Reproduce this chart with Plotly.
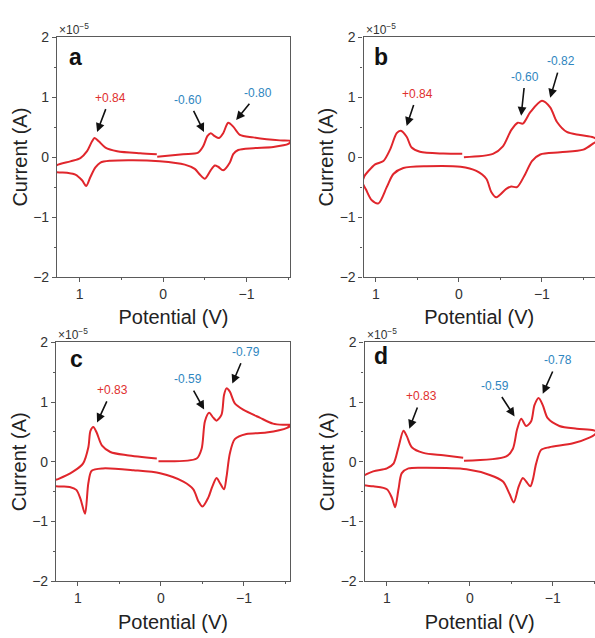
import plotly.graph_objects as go

# ---------------- data (current in units of 1e-5 A, potential in V) ----------------
panel_letters = ["a", "b", "c", "d"]

pot_a = [0.07, -0.24, -0.42, -0.48, -0.53, -0.57, -0.62, -0.67, -0.72, -0.78, -0.84, -0.92, -1.08, -1.24, -1.40, -1.53,
         -1.50, -1.32, -1.08, -0.90, -0.84, -0.80, -0.72, -0.66, -0.62, -0.57, -0.50, -0.44, -0.38, -0.26, 0.04, 0.36,
         0.63, 0.75, 0.81, 0.87, 0.92, 0.97, 1.05, 1.15, 1.29,
         1.29, 1.11, 0.99, 0.91, 0.85, 0.82, 0.77, 0.69, 0.55, 0.275, 0.075]
cur_a = [0.005, 0.05, 0.075, 0.18, 0.35, 0.40, 0.35, 0.32, 0.40, 0.575, 0.51, 0.37, 0.33, 0.30, 0.28, 0.27,
         0.22, 0.17, 0.15, 0.12, 0.05, -0.09, -0.22, -0.16, -0.14, -0.22, -0.36, -0.29, -0.195, -0.125, -0.07, -0.05,
         -0.06, -0.09, -0.17, -0.33, -0.48, -0.385, -0.29, -0.26, -0.24,
         -0.15, -0.07, -0.015, 0.10, 0.265, 0.32, 0.265, 0.16, 0.10, 0.065, 0.05]

pot_b = [-0.06, -0.41, -0.53, -0.63, -0.71, -0.77, -0.86, -1.00, -1.10, -1.18, -1.30, -1.46, -1.62, -1.67,
         -1.62, -1.50, -1.22, -0.98, -0.88, -0.80, -0.70, -0.63, -0.57, -0.45, -0.39, -0.33, -0.21, -0.02, 0.39,
         0.67, 0.79, 0.87, 0.97, 1.05, 1.12, 1.16,
         1.14, 1.09, 1.01, 0.91, 0.83, 0.75, 0.70, 0.63, 0.57, 0.47, 0.19, -0.04]
cur_b = [0.0, 0.055, 0.18, 0.45, 0.575, 0.56, 0.75, 0.94, 0.83, 0.59, 0.42, 0.37, 0.33, 0.28,
         0.23, 0.125, 0.08, 0.045, -0.065, -0.28, -0.50, -0.49, -0.53, -0.67, -0.58, -0.36, -0.23, -0.16, -0.15,
         -0.18, -0.28, -0.50, -0.77, -0.72, -0.54, -0.43,
         -0.32, -0.23, -0.12, -0.065, 0.125, 0.40, 0.44, 0.34, 0.16, 0.09, 0.06, 0.055]

pot_c = [0.03, -0.43, -0.49, -0.53, -0.58, -0.63, -0.67, -0.73, -0.76, -0.79, -0.83, -0.89, -0.99, -1.19, -1.35, -1.47, -1.57,
         -1.52, -1.27, -1.03, -0.89, -0.83, -0.79, -0.76, -0.71, -0.67, -0.62, -0.57, -0.50, -0.45, -0.39, -0.27,
         0.01, 0.33, 0.70, 0.835, 0.875, 0.915, 0.97, 1.02, 1.10, 1.28,
         1.28, 1.24, 1.06, 0.94, 0.875, 0.85, 0.815, 0.775, 0.71, 0.61, 0.41, 0.05]
cur_c = [0.01, 0.055, 0.22, 0.68, 0.82, 0.74, 0.69, 0.79, 1.12, 1.23, 1.175, 0.98, 0.875, 0.74, 0.64, 0.62, 0.62,
         0.57, 0.49, 0.465, 0.38, 0.14, -0.25, -0.46, -0.355, -0.27, -0.41, -0.60, -0.75, -0.66, -0.46, -0.33,
         -0.19, -0.14, -0.11, -0.15, -0.355, -0.87, -0.62, -0.47, -0.42, -0.40,
         -0.31, -0.29, -0.165, -0.03, 0.245, 0.52, 0.585, 0.49, 0.27, 0.165, 0.11, 0.055]

pot_d = [0.07, -0.44, -0.52, -0.57, -0.62, -0.68, -0.74, -0.78, -0.83, -0.88, -0.94, -1.08, -1.29, -1.49, -1.53,
         -1.50, -1.45, -1.245, -0.96, -0.86, -0.80, -0.76, -0.73, -0.68, -0.64, -0.59, -0.53, -0.48, -0.40, -0.24,
         0.04, 0.52, 0.74, 0.82, 0.86, 0.90, 0.94, 1.00, 1.165, 1.30,
         1.30, 1.165, 1.00, 0.92, 0.86, 0.80, 0.76, 0.70, 0.56, 0.32, 0.08]
cur_d = [0.016, 0.09, 0.22, 0.54, 0.72, 0.60, 0.68, 0.95, 1.07, 0.95, 0.73, 0.60, 0.555, 0.53, 0.50,
         0.45, 0.41, 0.31, 0.245, 0.20, -0.03, -0.30, -0.41, -0.33, -0.27, -0.41, -0.68, -0.54, -0.33, -0.22,
         -0.125, -0.10, -0.11, -0.19, -0.46, -0.76, -0.60, -0.46, -0.41, -0.38,
         -0.26, -0.16, -0.11, -0.03, 0.245, 0.52, 0.43, 0.245, 0.15, 0.11, 0.07]

peak_text_a = ["+0.84", "-0.60", "-0.80"]
peak_text_b = ["+0.84", "-0.60", "-0.82"]
peak_text_c = ["+0.83", "-0.59", "-0.79"]
peak_text_d = ["+0.83", "-0.59", "-0.78"]

x_tick_vals = [1, 0, -1]
y_tick_vals = [-2, -1, 0, 1, 2]

# ---------------- layout / style ----------------
W, H = 595, 638
FONT = "Liberation Sans, Arial, Helvetica, sans-serif"
CURVE = "#e0262c"
RED_T = "#e0302f"
BLUE_T = "#2f86c0"
AX = "#5a5a5a"

panels = [
    dict(pot=pot_a, cur=cur_a, txt=peak_text_a, xr=[1.27, -1.52], xd=[57, 290], yd=[30, 276], mirror_y=True,
         lab=[(0.635, 0.99), (-0.30, 0.96), (-1.14, 1.07)],
         head=[(0.79, 0.42), (-0.49, 0.42), (-0.875, 0.62)],
         let=(75, 50)),
    dict(pot=pot_b, cur=cur_b, txt=peak_text_b, xr=[1.15, -1.64], xd=[363.5, 595], yd=[30, 276], mirror_y=False,
         lab=[(0.50, 1.06), (-0.80, 1.345), (-1.23, 1.60)],
         head=[(0.63, 0.52), (-0.75, 0.69), (-1.10, 0.99)],
         let=(381, 50)),
    dict(pot=pot_c, cur=cur_c, txt=peak_text_c, xr=[1.265, -1.555], xd=[56, 290], yd=[343, 588], mirror_y=True,
         lab=[(0.59, 1.20), (-0.32, 1.38), (-1.02, 1.84)],
         head=[(0.77, 0.66), (-0.52, 0.875), (-0.86, 1.31)],
         let=(76, 360)),
    dict(pot=pot_d, cur=cur_d, txt=peak_text_d, xr=[1.27, -1.51], xd=[364.5, 595], yd=[343, 588], mirror_y=False,
         lab=[(0.58, 1.10), (-0.30, 1.27), (-1.06, 1.70)],
         head=[(0.73, 0.555), (-0.54, 0.76), (-0.88, 1.14)],
         let=(381, 357)),
]

fig = go.Figure()
annotations = []
layout_axes = {}

for i, p in enumerate(panels):
    n = "" if i == 0 else str(i + 1)
    xa, ya = "x" + n, "y" + n
    fig.add_trace(go.Scatter(x=p["pot"], y=p["cur"], mode="lines", xaxis=xa, yaxis=ya,
                             line=dict(color=CURVE, width=2, shape="spline", smoothing=0.8),
                             showlegend=False, hoverinfo="skip"))
    xdom = [p["xd"][0] / W, min(1.0, p["xd"][1] / W)]
    ydom = [1 - p["yd"][1] / H, 1 - p["yd"][0] / H]
    layout_axes["xaxis" + n] = dict(
        domain=xdom, range=p["xr"], anchor=ya, tickvals=x_tick_vals, ticks="outside", ticklen=4,
        tickwidth=1, tickcolor=AX, showline=True, linecolor=AX, linewidth=1.2, mirror=True,
        showgrid=False, zeroline=False,
        minor=dict(dtick=0.5, tick0=0, ticks="outside", ticklen=2, tickcolor=AX),
        tickfont=dict(family=FONT, size=14, color="#333"),
        title=dict(text="Potential (V)", font=dict(family=FONT, size=20, color="#222"), standoff=9),
    )
    layout_axes["yaxis" + n] = dict(
        domain=ydom, range=[-2, 2], anchor=xa, tickvals=y_tick_vals, ticks="outside", ticklen=4,
        tickwidth=1, tickcolor=AX, showline=True, linecolor=AX, linewidth=1.2, mirror=p["mirror_y"],
        showgrid=False, zeroline=False,
        minor=dict(dtick=0.5, tick0=0, ticks="outside", ticklen=2, tickcolor=AX),
        tickfont=dict(family=FONT, size=14, color="#333"),
        title=dict(text="Current (A)", font=dict(family=FONT, size=20, color="#222"), standoff=0),
    )
    # exponent
    annotations.append(dict(text="×10<sup>−5</sup>", xref=xa + " domain", yref=ya + " domain", x=0, y=1,
                            xanchor="left", yanchor="bottom", showarrow=False, xshift=0, yshift=-2,
                            font=dict(family=FONT, size=12, color="#333")))
    # panel letter
    annotations.append(dict(text="<b>%s</b>" % panel_letters[i], xref="paper", yref="paper",
                            x=p["let"][0] / W, y=1 - p["let"][1] / H, xanchor="center", yanchor="middle",
                            showarrow=False, font=dict(family=FONT, size=23, color="#111")))
    # peak labels with arrows pointing at the peaks
    for k, (t, (lx, ly), (hx, hy)) in enumerate(zip(p["txt"], p["lab"], p["head"])):
        col = RED_T if k == 0 else BLUE_T
        annotations.append(dict(text=t, x=hx, y=hy, ax=lx, ay=ly,
                                xref=xa, yref=ya, axref=xa, ayref=ya, showarrow=True,
                                xanchor="center", yanchor="middle",
                                arrowhead=2, arrowsize=1.1, arrowwidth=1.6, arrowcolor="#111",
                                standoff=0, startstandoff=3,
                                font=dict(family=FONT, size=12, color=col)))

fig.update_layout(width=W, height=H, margin=dict(l=0, r=0, t=0, b=0),
                  paper_bgcolor="white", plot_bgcolor="white",
                  annotations=annotations, **layout_axes)

fig.write_html("out.html")
